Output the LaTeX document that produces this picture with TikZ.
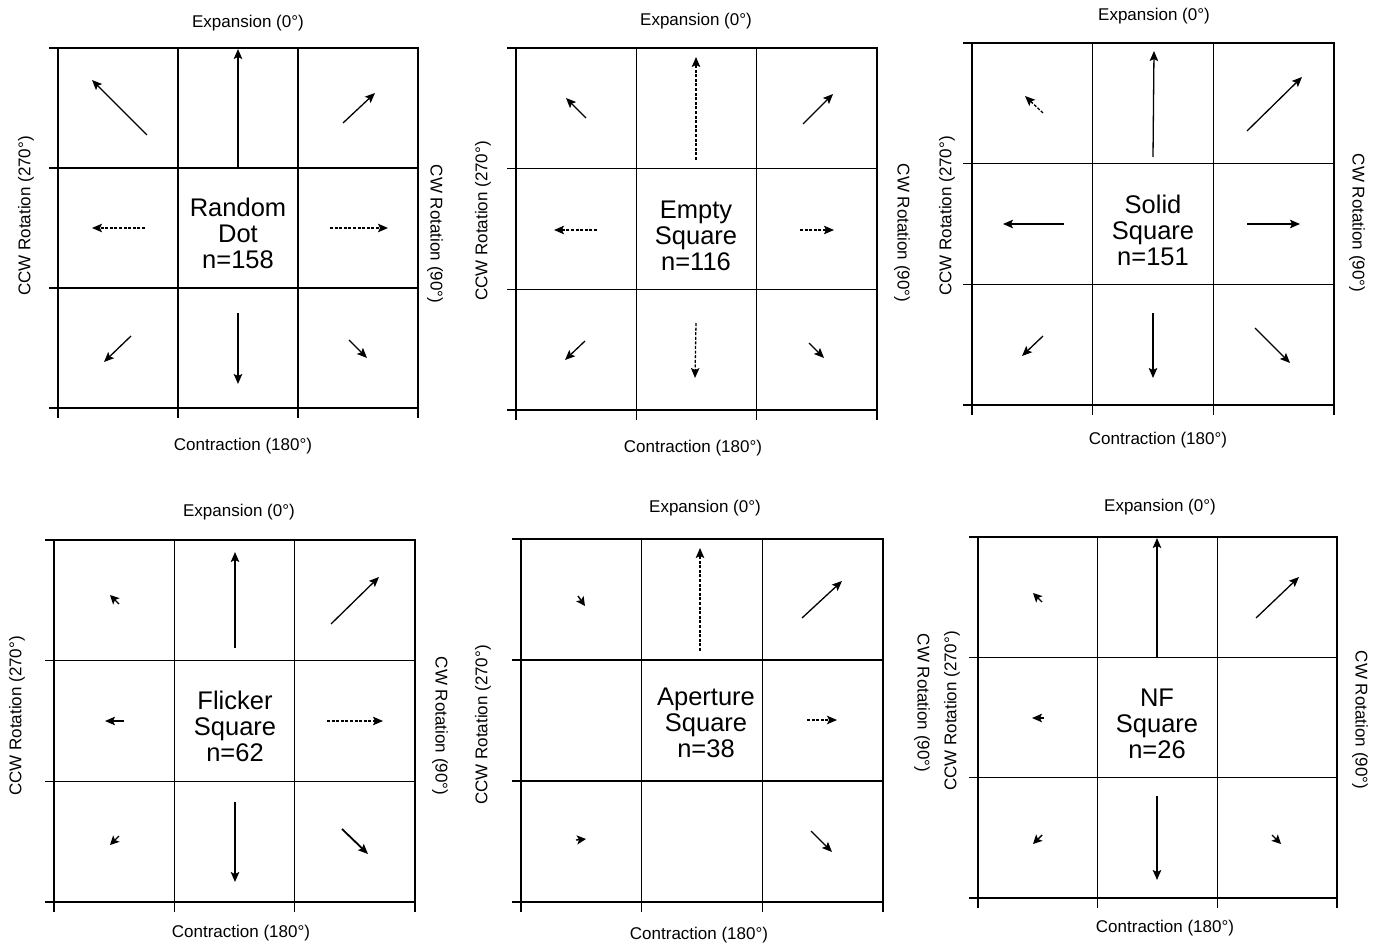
\documentclass[tikz,border=0pt]{standalone}
\usepackage{fontspec}
\setmainfont{Liberation Sans}
\usetikzlibrary{arrows.meta}
\tikzset{
  gridline/.style={line width=1.6pt},
  outerline/.style={line width=2pt},
  tickline/.style={line width=1.4pt},
  arr/.style={line width=1.3pt, -{Stealth[length=10pt,width=8.5pt,inset=2pt]}},
  bigarr/.style={arr, line width=1.8pt},
  darr/.style={arr, dash pattern=on 3pt off 1.6pt},
  tinyarr/.style={line width=1.4pt, -{Stealth[length=9pt,width=9pt,inset=2pt]}},
  lab/.style={font=\fontsize{17}{20}\selectfont, inner sep=0pt},
  ttl/.style={font=\fontsize{25.5}{26}\selectfont, align=center, inner sep=0pt},
}
\newcommand{\gridpanel}[4]{%
  \pgfmathsetmacro{\gxa}{#1+(#3-#1)/3}%
  \pgfmathsetmacro{\gxb}{#1+2*(#3-#1)/3}%
  \pgfmathsetmacro{\gya}{#2+(#4-#2)/3}%
  \pgfmathsetmacro{\gyb}{#2+2*(#4-#2)/3}%
  \draw[gridline] (\gxa,#2) -- (\gxa,#4) (\gxb,#2) -- (\gxb,#4)
                  (#1,\gya) -- (#3,\gya) (#1,\gyb) -- (#3,\gyb);
  \draw[outerline] (#1,#2) rectangle (#3,#4);
  \draw[tickline] (#1-9,#2) -- (#1,#2) (#1-9,\gya) -- (#1,\gya)
                  (#1-9,\gyb) -- (#1,\gyb) (#1-9,#4) -- (#1,#4);
  \draw[tickline] (#1,#4) -- (#1,#4+10) (\gxa,#4) -- (\gxa,#4+10)
                  (\gxb,#4) -- (\gxb,#4+10) (#3,#4) -- (#3,#4+10);
}
\begin{document}
\begin{tikzpicture}[x=1pt,y=-1pt]
\useasboundingbox (0,0) rectangle (1377,944);
\fill[white] (0,0) rectangle (1377,944);

% ---------- Panel 1: Random Dot ----------
\gridpanel{58}{48}{418}{408}
\node[lab] (p1exp) at (248,23) {Expansion (0°)};
\node[lab] (p1con) at (243,446) {Contraction (180°)};
\node[lab, rotate=90] (p1ccw) at (26,216) {CCW Rotation (270°)};
\node[lab, rotate=-90] (p1cw) at (435,234) {CW Rotation (90°)};
\node[ttl] (p1ttl) at (238,233) {Random\\Dot\\n=158};
\draw[arr] (147,135) -- (92,80);
\draw[arr] (238,168) -- (238,49);
\draw[arr] (343,123) -- (375,93);
\draw[darr] (145,228) -- (92,228);
\draw[darr] (330,228) -- (388,228);
\draw[arr] (131,336) -- (104,362);
\draw[bigarr] (238,313) -- (238,384);
\draw[arr] (349,340) -- (367,358);

% ---------- Panel 2: Empty Square ----------
\gridpanel{516}{48}{877}{410}
\node[lab] (p2exp) at (696,21) {Expansion (0°)};
\node[lab] (p2con) at (693,448) {Contraction (180°)};
\node[lab, rotate=90] (p2ccw) at (483,221) {CCW Rotation (270°)};
\node[lab, rotate=-90] (p2cw) at (902,233) {CW Rotation (90°)};
\node[ttl] (p2ttl) at (696,236) {Empty\\Square\\n=116};
\draw[arr] (586,118) -- (566,98);
\draw[darr] (696,160) -- (696,57);
\draw[arr, line width=1.1pt] (803,124) -- (833,94);
\draw[darr] (597,230) -- (554,230);
\draw[darr] (800,230) -- (834,230);
\draw[arr] (585,341) -- (565,360);
\draw[darr] (696,323) -- (695,378);
\draw[arr] (809,343) -- (824,358);

% ---------- Panel 3: Solid Square ----------
\gridpanel{972}{43}{1334}{405}
\node[lab] (p3exp) at (1154,16) {Expansion (0°)};
\node[lab] (p3con) at (1158,440) {Contraction (180°)};
\node[lab, rotate=90] (p3ccw) at (947,216) {CCW Rotation (270°)};
\node[lab, rotate=-90] (p3cw) at (1357,223) {CW Rotation (90°)};
\node[ttl] (p3ttl) at (1153,230) {Solid\\Square\\n=151};
\draw[darr] (1043,113) -- (1025,96);
\draw[arr] (1153,157) -- (1154,51);
\draw[arr] (1247,131) -- (1302,77);
\draw[arr] (1064,224) -- (1003,224);
\draw[arr] (1247,224) -- (1300,224);
\draw[arr] (1043,336) -- (1022,356);
\draw[arr] (1153,313) -- (1153,378);
\draw[arr] (1255,328) -- (1290,363);

% ---------- Panel 4: Flicker Square ----------
\gridpanel{54}{540}{415}{902}
\node[lab] (p4exp) at (239,512) {Expansion (0°)};
\node[lab] (p4con) at (241,933) {Contraction (180°)};
\node[lab, rotate=90] (p4ccw) at (17,716) {CCW Rotation (270°)};
\node[lab, rotate=-90] (p4cw) at (440,726) {CW Rotation (90°)};
\node[ttl] (p4ttl) at (235,726) {Flicker\\Square\\n=62};
\draw[tinyarr] (119,604) -- (110,595);
\draw[arr] (235,648) -- (235,552);
\draw[arr] (331,624) -- (379,577);
\draw[arr] (124,721) -- (105,721);
\draw[darr] (327,721) -- (383,721);
\draw[tinyarr] (119,836) -- (110,845);
\draw[bigarr] (235,802) -- (235,882);
\draw[bigarr] (342,829) -- (368,854);

% ---------- Panel 5: Aperture Square ----------
\gridpanel{521}{539}{883}{902}
\node[lab] (p5exp) at (705,508) {Expansion (0°)};
\node[lab] (p5con) at (699,935) {Contraction (180°)};
\node[lab, rotate=90] (p5ccw) at (483,725) {CCW Rotation (270°)};
\node[lab, rotate=-90] (p5cw) at (922,703) {CW Rotation (90°)};
\node[ttl] (p5ttl) at (706,723) {Aperture\\Square\\n=38};
\draw[tinyarr] (578,596) -- (585,606);
\draw[darr] (700,651) -- (700,548);
\draw[arr] (802,618) -- (842,581);
\draw[darr] (807,720) -- (837,720);
\draw[tinyarr] (576,840) -- (586,839);
\draw[arr] (811,831) -- (832,852);

% ---------- Panel 6: NF Square ----------
\gridpanel{978}{537}{1337}{898}
\node[lab] (p6exp) at (1160,507) {Expansion (0°)};
\node[lab] (p6con) at (1165,928) {Contraction (180°)};
\node[lab, rotate=90] (p6ccw) at (952,711) {CCW Rotation (270°)};
\node[lab, rotate=-90] (p6cw) at (1360,720) {CW Rotation (90°)};
\node[ttl] (p6ttl) at (1157,724) {NF\\Square\\n=26};
\draw[tinyarr] (1042,602) -- (1033,593);
\draw[arr] (1157,657) -- (1157,538);
\draw[arr] (1256,618) -- (1299,577);
\draw[arr] (1044,718) -- (1032,718);
\draw[tinyarr] (1042,835) -- (1033,844);
\draw[bigarr] (1157,796) -- (1157,880);
\draw[tinyarr] (1272,835) -- (1281,844);
\end{tikzpicture}
\end{document}
